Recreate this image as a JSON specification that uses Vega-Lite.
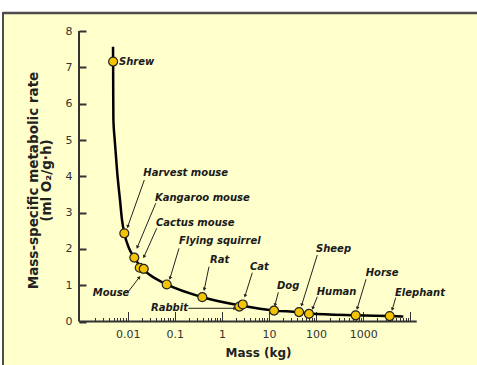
{
  "$schema": "https://vega.github.io/schema/vega-lite/v6.json",
  "width": 474,
  "height": 353,
  "autosize": {"type": "none"},
  "padding": {"left": 3, "top": 12, "right": 0, "bottom": 0},
  "background": "#ffffff",
  "config": {
    "font": "DejaVu Sans",
    "view": {"fill": "#FFFFCC", "stroke": null}
  },
  "datasets": {
    "animals": [
      {"name": "Shrew", "mass": 0.0049, "rate": 7.16, "lx": 0.006535, "ly": 7.149},
      {"name": "Harvest mouse", "mass": 0.00847, "rate": 2.43, "lx": 0.02144, "ly": 4.091, "ax": 0.02251, "ay": 3.898, "ex": 0.01, "ey": 2.612},
      {"name": "Kangaroo mouse", "mass": 0.0138, "rate": 1.76, "lx": 0.03799, "ly": 3.41, "ax": 0.03932, "ay": 3.256, "ex": 0.01599, "ey": 2.044},
      {"name": "Mouse", "mass": 0.018, "rate": 1.48, "lx": 0.001806, "ly": 0.777, "ax": 0.0103, "ay": 0.821, "ex": 0.01764, "ey": 1.218},
      {"name": "Cactus mouse", "mass": 0.0219, "rate": 1.45, "lx": 0.0399, "ly": 2.722, "ax": 0.04128, "ay": 2.567, "ex": 0.02219, "ey": 1.785},
      {"name": "Flying squirrel", "mass": 0.0673, "rate": 1.02, "lx": 0.1228, "ly": 2.226, "ax": 0.1228, "ay": 2.017, "ex": 0.07909, "ey": 1.19},
      {"name": "Rat", "mass": 0.384, "rate": 0.67, "lx": 0.559, "ly": 1.694, "ax": 0.5324, "ay": 1.51, "ex": 0.4229, "ey": 0.887},
      {"name": "Rabbit", "mass": 2.34, "rate": 0.41, "lx": 0.03124, "ly": 0.364, "ax": 0.1935, "ay": 0.364, "ex": 1.897, "ey": 0.364},
      {"name": "Cat", "mass": 2.77, "rate": 0.47, "lx": 3.951, "ly": 1.51, "ax": 4.42, "ay": 1.344, "ex": 3.093, "ey": 0.702},
      {"name": "Dog", "mass": 12.8, "rate": 0.3, "lx": 14.79, "ly": 0.986, "ax": 15.76, "ay": 0.804, "ex": 13.41, "ey": 0.455},
      {"name": "Sheep", "mass": 43.4, "rate": 0.26, "lx": 99.5, "ly": 1.989, "ax": 106, "ay": 1.832, "ex": 49.47, "ey": 0.455},
      {"name": "Human", "mass": 70.6, "rate": 0.21, "lx": 102.9, "ly": 0.821, "ax": 106, "ay": 0.683, "ex": 84.7, "ey": 0.364},
      {"name": "Horse", "mass": 693, "rate": 0.17, "lx": 1130, "ly": 1.344, "ax": 1146.7, "ay": 1.163, "ex": 749.4, "ey": 0.364},
      {"name": "Elephant", "mass": 3656, "rate": 0.15, "lx": 4732, "ly": 0.793, "ax": 4898, "ay": 0.656, "ex": 4147, "ey": 0.336}
    ],
    "curve": [
      {"mass": 0.00488, "rate": 7.57},
      {"mass": 0.0049, "rate": 7.16},
      {"mass": 0.00493, "rate": 6.2},
      {"mass": 0.00497, "rate": 5.55},
      {"mass": 0.0053, "rate": 5.0},
      {"mass": 0.00601, "rate": 4.08},
      {"mass": 0.00686, "rate": 3.35},
      {"mass": 0.00757, "rate": 2.8},
      {"mass": 0.00847, "rate": 2.43},
      {"mass": 0.01066, "rate": 2.02},
      {"mass": 0.0138, "rate": 1.76},
      {"mass": 0.01982, "rate": 1.47},
      {"mass": 0.02975, "rate": 1.28},
      {"mass": 0.0673, "rate": 1.02},
      {"mass": 0.384, "rate": 0.67},
      {"mass": 2.544, "rate": 0.44},
      {"mass": 12.8, "rate": 0.3},
      {"mass": 43.4, "rate": 0.256},
      {"mass": 70.6, "rate": 0.22},
      {"mass": 693, "rate": 0.17},
      {"mass": 3656, "rate": 0.15},
      {"mass": 7100, "rate": 0.14}
    ]
  },
  "layer": [
    {
      "data": {"values": [{}]},
      "mark": {"type": "rule", "stroke": "#4d4d4d", "strokeWidth": 2.5},
      "encoding": {
        "x": {"datum": 0.00002251, "type": "quantitative"},
        "x2": {"datum": 260700},
        "y": {"datum": 8.5, "type": "quantitative"}
      }
    },
    {
      "data": {"values": [{}]},
      "mark": {"type": "rule", "stroke": "#4d4d4d", "strokeWidth": 2},
      "encoding": {
        "x": {"datum": 0.00002251, "type": "quantitative"},
        "y": {"datum": 8.526, "type": "quantitative"},
        "y2": {"datum": -1.198}
      }
    },
    {
      "data": {"name": "curve"},
      "mark": {"type": "line", "interpolate": "monotone", "stroke": "#000000", "strokeWidth": 2.5},
      "encoding": {
        "x": {
          "field": "mass", "type": "quantitative",
          "scale": {"type": "log", "domain": [0.00002251, 260700], "nice": false},
          "axis": {
            "orient": "bottom",
            "offset": -43.5,
            "domain": false,
            "grid": false,
            "values": [0.002,0.003,0.004,0.005,0.006,0.007,0.008,0.009,0.01,0.02,0.03,0.04,0.05,0.06,0.07,0.08,0.09,0.1,0.2,0.3,0.4,0.5,0.6,0.7,0.8,0.9,1,2,3,4,5,6,7,8,9,10,20,30,40,50,60,70,80,90,100,200,300,400,500,600,700,800,900,1000,2000,3000,4000,5000,6000,7000,8000,9000,10000],
            "tickColor": "#333333",
            "tickWidth": 1,
            "tickSize": {"condition": {"test": "abs(log(datum.value)/LN10 - round(log(datum.value)/LN10)) < 1e-6", "value": -10}, "value": -4},
            "labelExpr": "(abs(log(datum.value)/LN10 - round(log(datum.value)/LN10)) < 1e-6 && datum.value > 0.005 && datum.value < 5000) ? format(datum.value, '~g') : ''",
            "labelOverlap": false,
            "labelFlush": false,
            "labelFontSize": 11,
            "labelColor": "#333333",
            "labelBaseline": "top",
            "labelPadding": 17,
            "title": "Mass (kg)",
            "titleFontSize": 12,
            "titleFontWeight": "bold",
            "titleColor": "#222222",
            "titleX": 255,
            "titleY": 35,
            "titleBaseline": "alphabetic",
            "titleAlign": "center"
          }
        },
        "y": {
          "field": "rate", "type": "quantitative",
          "scale": {"domain": [-1.198, 8.526], "nice": false, "zero": false},
          "axis": {
            "orient": "left",
            "offset": -76,
            "domain": false,
            "grid": false,
            "values": [0, 1, 2, 3, 4, 5, 6, 7, 8],
            "tickColor": "#333333",
            "tickWidth": 2,
            "tickSize": -7,
            "labelFontSize": 11,
            "labelColor": "#333333",
            "labelPadding": 14,
            "title": ["Mass-specific metabolic rate", "(ml O₂/g·h)"],
            "titleFontSize": 13.5,
            "titleFontWeight": "bold",
            "titleColor": "#222222",
            "titleAngle": -90,
            "titleX": -42,
            "titleY": 168,
            "titleAlign": "center",
            "titleBaseline": "alphabetic",
            "titleLineHeight": 13.5
          }
        }
      }
    },
    {
      "data": {"values": [{}]},
      "mark": {"type": "rule", "stroke": "#333333", "strokeWidth": 2},
      "encoding": {
        "x": {"datum": 0.000925, "type": "quantitative"},
        "x2": {"datum": 13680},
        "y": {"datum": 0, "type": "quantitative"}
      }
    },
    {
      "data": {"values": [{}]},
      "mark": {"type": "rule", "stroke": "#333333", "strokeWidth": 2},
      "encoding": {
        "x": {"datum": 0.000925, "type": "quantitative"},
        "y": {"datum": 0, "type": "quantitative"},
        "y2": {"datum": 8}
      }
    },
    {
      "data": {"name": "animals"},
      "transform": [{"filter": "datum.ax != null"}],
      "mark": {"type": "rule", "stroke": "#222222", "strokeWidth": 1},
      "encoding": {
        "x": {"field": "ax", "type": "quantitative"},
        "y": {"field": "ay", "type": "quantitative"},
        "x2": {"field": "ex"},
        "y2": {"field": "ey"}
      }
    },
    {
      "data": {"name": "animals"},
      "transform": [{"filter": "datum.ax != null"}],
      "mark": {
        "type": "point", "shape": "triangle-up", "filled": true, "size": 14,
        "color": "#222222", "opacity": 1,
        "angle": {"expr": "atan2(scale('x', datum.ex) - scale('x', datum.ax), scale('y', datum.ay) - scale('y', datum.ey)) * 180 / PI"}
      },
      "encoding": {
        "x": {"field": "ex", "type": "quantitative"},
        "y": {"field": "ey", "type": "quantitative"}
      }
    },
    {
      "data": {"name": "animals"},
      "mark": {"type": "point", "shape": "circle", "filled": true, "size": 80, "fill": "#F5C400", "stroke": "#222222", "strokeWidth": 1.2, "opacity": 1},
      "encoding": {
        "x": {"field": "mass", "type": "quantitative"},
        "y": {"field": "rate", "type": "quantitative"}
      }
    },
    {
      "data": {"name": "animals"},
      "mark": {"type": "text", "align": "left", "baseline": "middle", "fontSize": 10, "fontWeight": "bold", "fontStyle": "italic", "color": "#1a1a1a"},
      "encoding": {
        "x": {"field": "lx", "type": "quantitative"},
        "y": {"field": "ly", "type": "quantitative"},
        "text": {"field": "name"}
      }
    }
  ]
}
